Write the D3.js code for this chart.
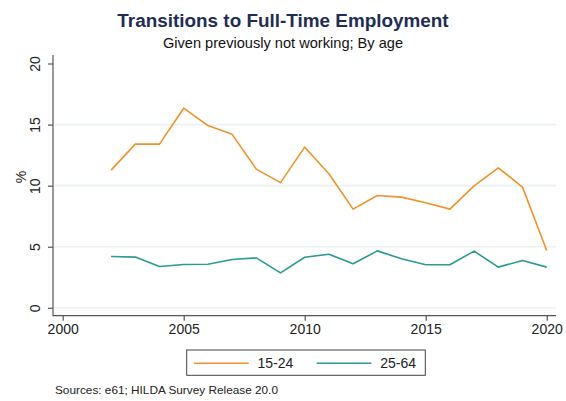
<!DOCTYPE html>
<html>
<head>
<meta charset="utf-8">
<script src="https://cdn.jsdelivr.net/npm/d3@7"></script>
<style>
  body { margin: 0; background: #fff; }
  text { font-family: "Liberation Sans", Arial, sans-serif; }
</style>
</head>
<body>
<div id="chart"></div>
<script>
// chart values
var years = [2002, 2003, 2004, 2005, 2006, 2007, 2008, 2009, 2010, 2011,
             2012, 2013, 2014, 2015, 2016, 2017, 2018, 2019, 2020];
var young = [11.27, 13.4, 13.4, 16.34, 14.92, 14.2, 11.35, 10.25, 13.15, 10.97,
             8.08, 9.19, 9.06, 8.6, 8.08, 9.98, 11.46, 9.88, 4.69];
var prime = [4.2, 4.15, 3.38, 3.54, 3.57, 3.95, 4.09, 2.86, 4.14, 4.39,
             3.6, 4.66, 4.01, 3.52, 3.52, 4.64, 3.33, 3.87, 3.33];
var seriesNames = ["15-24", "25-64"];
var xTicks = [2000, 2005, 2010, 2015, 2020];
var yTicks = [0, 5, 10, 15, 20];
var gridVals = [0, 5, 10, 15];

var colors = ["#f0922c", "#2a9a96"];

var W = 566, H = 401;
// plot frame (axis lines) and inner data range
var frame = {left: 53, right: 556, top: 55, bottom: 315.7};

var svg = d3.select("#chart").append("svg")
    .attr("width", W)
    .attr("height", H);

var x = d3.scaleLinear().domain([2000, 2020]).range([62.7, 546.7]);
var y = d3.scaleLinear().domain([0, 20]).range([307.8, 63.5]);

// gridlines
svg.append("g").selectAll("line")
    .data(gridVals)
    .enter().append("line")
    .attr("x1", frame.left + 1).attr("x2", frame.right)
    .attr("y1", function(d) { return y(d); })
    .attr("y2", function(d) { return y(d); })
    .style("stroke", "#eaf2f3")
    .style("stroke-width", "1.6px");

// y axis
var gy = svg.append("g")
    .attr("transform", "translate(" + frame.left + ",0)")
    .call(d3.axisLeft(y).tickValues(yTicks).tickSize(5).tickPadding(0));
gy.select(".domain").remove();
gy.selectAll(".tick line").style("stroke", "#555").style("stroke-width", "1.2px");
gy.selectAll(".tick text")
    .attr("x", 0).attr("dy", null)
    .attr("transform", "translate(-13,0) rotate(-90)")
    .attr("text-anchor", "middle")
    .style("font-size", "14px")
    .style("fill", "#222");

// x axis
var gx = svg.append("g")
    .attr("transform", "translate(0," + frame.bottom + ")")
    .call(d3.axisBottom(x).tickValues(xTicks).tickFormat(d3.format("d")).tickSize(5).tickPadding(3));
gx.select(".domain").remove();
gx.selectAll(".tick line").style("stroke", "#555").style("stroke-width", "1.2px");
gx.selectAll(".tick text")
    .style("font-size", "14px")
    .style("fill", "#222");

// axis lines
svg.append("path")
    .attr("d", "M" + frame.left + "," + frame.top + "V" + frame.bottom + "H" + frame.right)
    .style("fill", "none")
    .style("stroke", "#555")
    .style("stroke-width", "1.2px");

// lines
var line = d3.line()
    .x(function(d) { return x(d[0]); })
    .y(function(d) { return y(d[1]); });

[young, prime].forEach(function(vals, i) {
  svg.append("path")
      .datum(years.map(function(yr, j) { return [yr, vals[j]]; }))
      .attr("d", line)
      .style("fill", "none")
      .style("stroke", colors[i])
      .style("stroke-width", "1.6px")
      .style("stroke-linejoin", "round");
});

// titles
svg.append("text")
    .attr("x", 283).attr("y", 27.3)
    .attr("text-anchor", "middle")
    .style("font-size", "18.9px")
    .style("font-weight", "bold")
    .style("fill", "#1f2d55")
    .text("Transitions to Full-Time Employment");

svg.append("text")
    .attr("x", 283).attr("y", 47.5)
    .attr("text-anchor", "middle")
    .style("font-size", "14.6px")
    .style("fill", "#111")
    .text("Given previously not working; By age");

// y title
svg.append("text")
    .attr("transform", "translate(26,177) rotate(-90)")
    .attr("text-anchor", "middle")
    .style("font-size", "14px")
    .style("fill", "#222")
    .text("%");

// legend
var leg = svg.append("g");
leg.append("rect")
    .attr("x", 186.7).attr("y", 350)
    .attr("width", 238.6).attr("height", 25.3)
    .style("fill", "#fff")
    .style("stroke", "#444")
    .style("stroke-width", "1px");

var legX = [194, 316.7];
seriesNames.forEach(function(name, i) {
  leg.append("line")
      .attr("x1", legX[i]).attr("x2", legX[i] + 54.7)
      .attr("y1", 363.3).attr("y2", 363.3)
      .style("stroke", colors[i])
      .style("stroke-width", "1.6px");
  leg.append("text")
      .attr("x", legX[i] + 63.5).attr("y", 368.3)
      .style("font-size", "14px")
      .style("fill", "#222")
      .text(name);
});

// source note
svg.append("text")
    .attr("x", 55).attr("y", 394)
    .style("font-size", "11.8px")
    .style("fill", "#222")
    .text("Sources: e61; HILDA Survey Release 20.0");
</script>
</body>
</html>
